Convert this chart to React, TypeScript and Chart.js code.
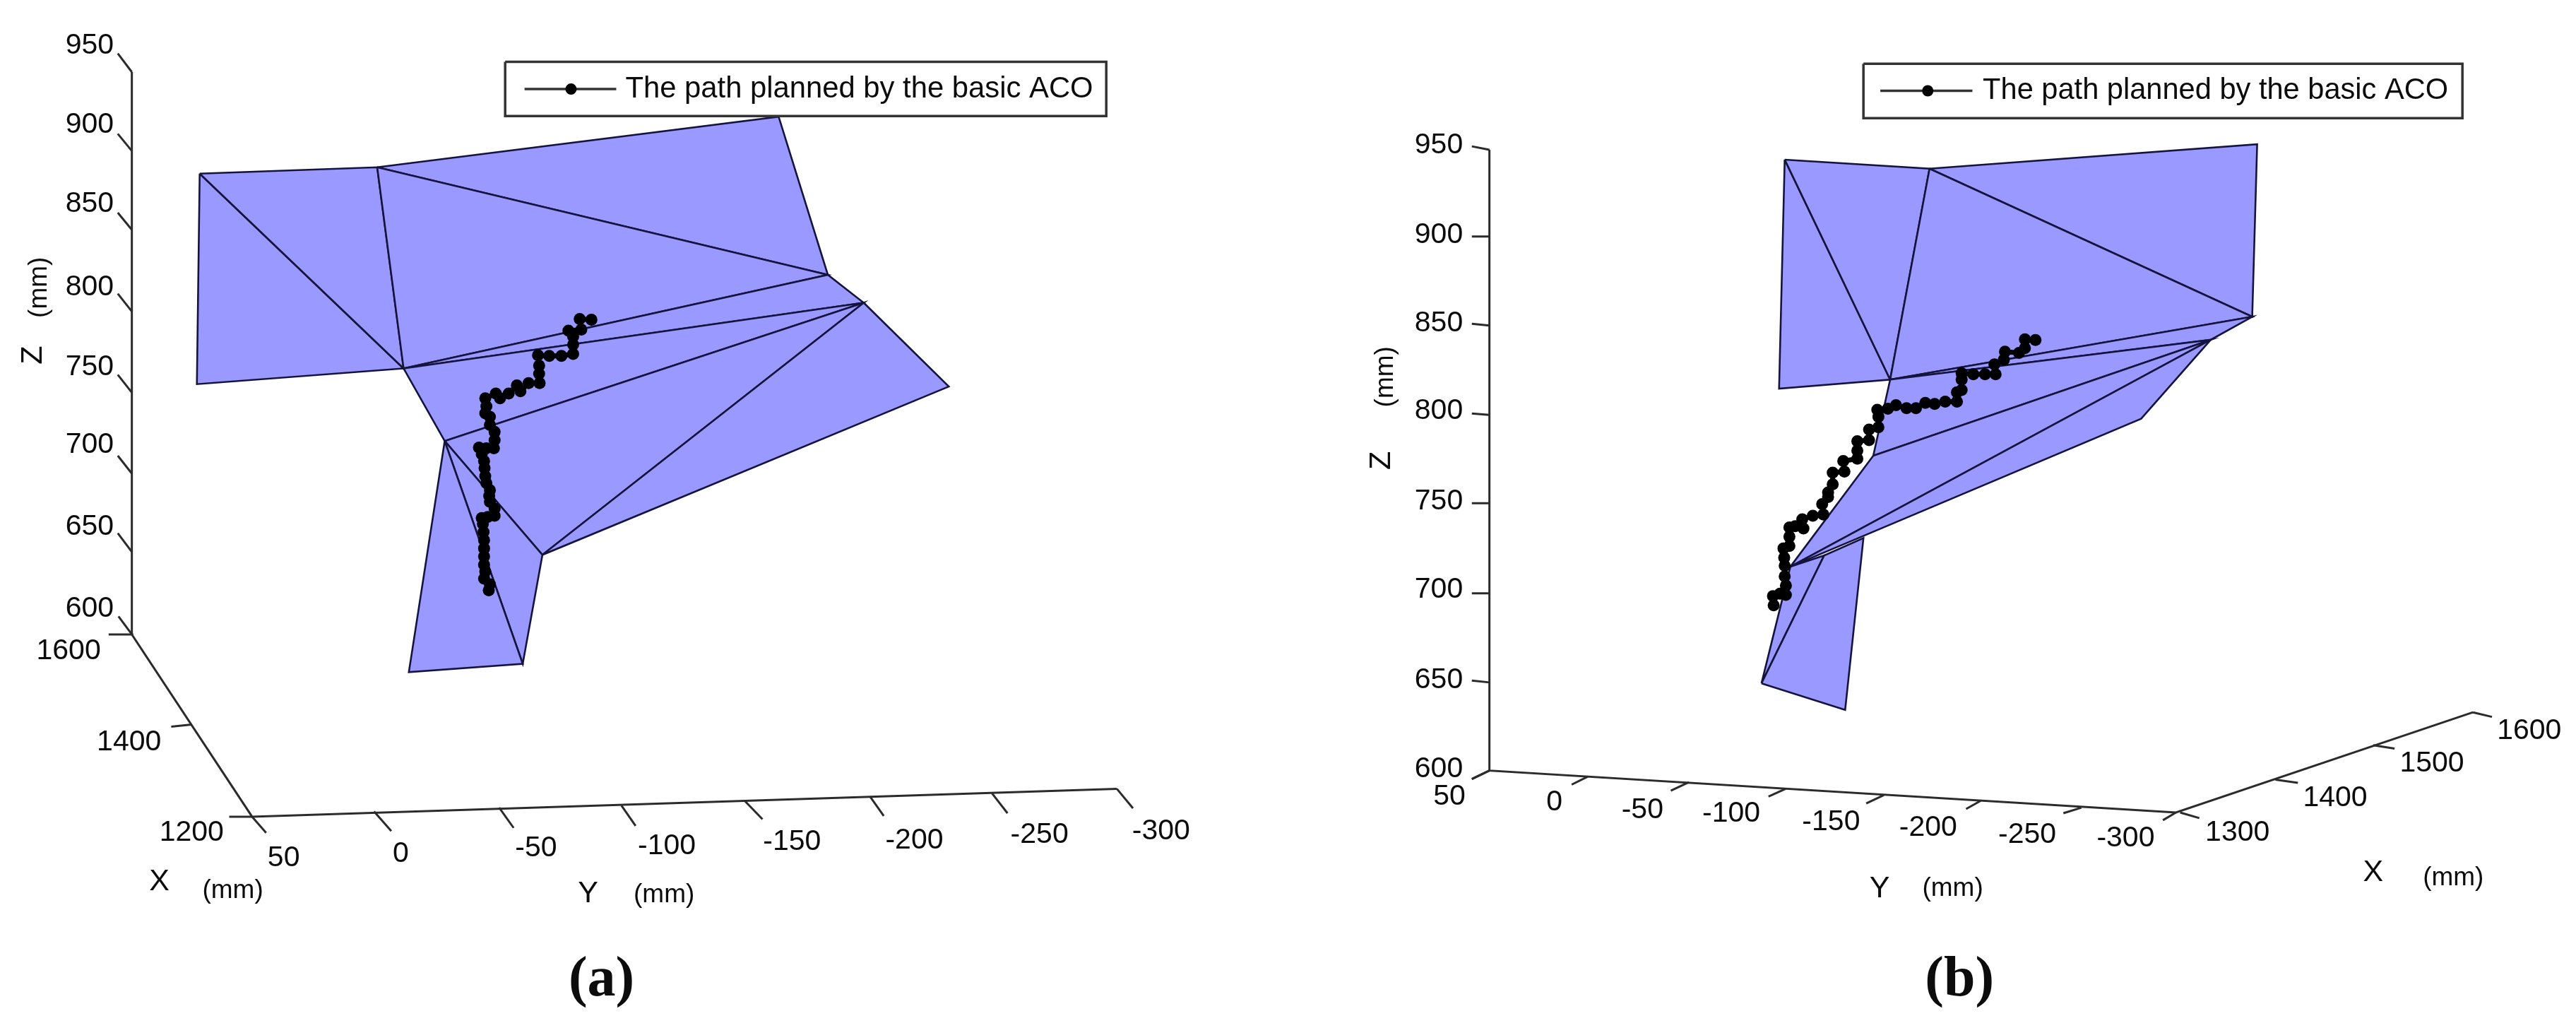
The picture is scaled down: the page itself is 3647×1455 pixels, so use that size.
import React, { useEffect, useRef } from "react";
import { Chart, registerables } from "chart.js";

Chart.register(...registerables);

type P = [number, number];

const WIDTH = 3647;
const HEIGHT = 1455;

const legendLabel = "The path planned by the basic ACO";

// ---- Panel (a): projected values ----
const aVertices: Record<string, P> = {
  A: [275.5, 240], B: [528, 231], C: [1099, 158.5], D: [1169, 385], E: [1220, 425], F: [1341, 545],
  G: [565.5, 519], H: [271.5, 541.5], I: [624, 623], J: [763, 786], K: [573, 954], L: [735, 942],
};
const aFaces = ["AGH", "ABG", "BCD", "BDG", "GDE", "GEI", "IEJ", "EFJ", "IJL", "ILK"];
const aPath: P[] = [
  [686.7, 836.7], [688.3, 828.3], [680, 820], [681.7, 810], [680, 800], [680, 788.3], [680, 776.7], [680, 765],
  [679.3, 753.3], [678.3, 741.7], [676.7, 733.3], [685, 731.7], [695, 730], [695, 720], [688.3, 710], [687.3, 701.7],
  [688.3, 693.3], [683.3, 683.3], [681.7, 673.3], [680.7, 661.7], [680, 651.7], [676.7, 641.7], [672.7, 632.3],
  [683.3, 633.3], [694, 633.3], [695, 621.7], [695, 610], [688.3, 600], [688.3, 588.3], [681.7, 583.3], [683.3, 573.3],
  [681.7, 561.7], [696.7, 555], [702.7, 561.7], [715, 555], [726.7, 543.3], [731.7, 551.7], [743.3, 540], [759, 540],
  [758.3, 526.7], [758.3, 515], [756.7, 500], [772.7, 501], [790, 501], [806.7, 498.3], [806.7, 485], [806.7, 473.3],
  [800, 465], [818.3, 463.3], [816, 448.3], [832.7, 449.3],
];
const aZLabels = ["950", "900", "850", "800", "750", "700", "650", "600"];
const aZTickBase: P[] = [[179, 94.6], [179, 207.6], [179, 320.5], [179, 437.5], [179, 553.6], [179, 669.6], [179, 781.8], [179, 900]];
const aZTickEnd: P[] = [[159, 68], [159, 183], [159, 296], [159, 412], [159, 528], [159, 644], [159, 755], [160, 874]];
const aZLabelAt: P[] = [[119, 57], [119, 170], [119, 284], [119, 403], [119, 517], [119, 629], [119, 746], [119, 863]];
const aXLabels = ["1600", "1400", "1200"];
const aXTickBase: P[] = [[181, 900], [264, 1029], [350, 1161]];
const aXTickEnd: P[] = [[146, 900], [235, 1032], [317.5, 1161]];
const aXLabelAt: P[] = [[89, 924], [175, 1055], [264, 1184]];
const aYLabels = ["50", "0", "-50", "-100", "-150", "-200", "-250", "-300"];
const aYTickBase: P[] = [[350, 1161], [523.5, 1153.5], [701.5, 1148], [875.4, 1145], [1050.5, 1138], [1229, 1132], [1402.5, 1127.5], [1580, 1121]];
const aYTickEnd: P[] = [[370, 1184], [548, 1181.5], [722, 1177], [895.5, 1174], [1076, 1164.6], [1248.5, 1160], [1424.5, 1156], [1603, 1149]];
const aYLabelAt: P[] = [[395, 1220], [561.4, 1214], [754, 1206.5], [940, 1203], [1118, 1197], [1292, 1195], [1470, 1187], [1643, 1181.5]];

// ---- Panel (b) ----
const bVertices: Record<string, P> = {
  A: [2530, 220], B: [2736, 233], C: [3202, 198], D: [3195, 445], E: [3136, 478], F: [3037, 591],
  G: [2680, 535], H: [2522, 548], N: [2656, 644], O: [2538, 803], K: [2497, 970], L: [2616, 1008],
  M: [2642, 762], Q: [2586, 787],
};
const bFaces = ["KQO", "KLMQ", "AGH", "ABG", "BCD", "BDG", "GDE", "GEN", "NEO", "EFO"];
const bPath: P[] = [
  [2514.3, 858.3], [2513.3, 845], [2523.3, 841.7], [2531.7, 843.3], [2531.7, 830], [2530, 816.7], [2530, 801.7],
  [2529.3, 790], [2528.3, 776.7], [2536.7, 773.3], [2536.7, 760], [2536.7, 746.7], [2545, 745], [2556.7, 748.3],
  [2555, 735], [2570, 730], [2585, 728.3], [2583.3, 713.3], [2591.7, 703.3], [2591.7, 696.7], [2598.3, 685],
  [2598.3, 668.3], [2615, 666.7], [2613.3, 651.7], [2633.3, 648.3], [2633.3, 636.7], [2633.3, 623.3], [2650, 621.7],
  [2650, 606.7], [2663.3, 603.3], [2663.3, 588.3], [2661.7, 578.3], [2676.7, 576.7], [2688.3, 571.7], [2703.3, 576],
  [2716.7, 576], [2730, 568.3], [2743.3, 570], [2758.3, 566.7], [2775, 566.7], [2775, 553.3], [2781.7, 550],
  [2781.7, 535], [2781.7, 526], [2798.3, 527.3], [2815, 527.3], [2830, 527.3], [2828.3, 513.3], [2841.7, 506.7],
  [2843.3, 495], [2863.3, 496.7], [2871.7, 490], [2871.7, 477.3], [2886.7, 478.3],
];
const bZLabels = ["950", "900", "850", "800", "750", "700", "650", "600"];
const bZTickBase: P[] = [[2110, 206], [2110, 330], [2110, 457.6], [2110, 585.7], [2110, 712], [2110, 841], [2110, 968.7], [2110, 1095]];
const bZTickEnd: P[] = [[2085, 201], [2085, 330], [2085, 455], [2085, 583.5], [2085, 712], [2085, 841], [2085, 966], [2085, 1107]];
const bZLabelAt: P[] = [[2038, 199.6], [2038, 328], [2038, 454], [2038, 580], [2038, 709.6], [2038, 836], [2038, 965], [2038, 1093]];
const bYLabels = ["50", "0", "-50", "-100", "-150", "-200", "-250", "-300"];
const bYTickBase: P[] = [[2110, 1095], [2250, 1103.5], [2393.7, 1111.7], [2531.5, 1121], [2671, 1130], [2809, 1138], [2952, 1148], [3086.5, 1155]];
const bYTickEnd: P[] = [[2085, 1107], [2227, 1115], [2368, 1123.7], [2507, 1132], [2646, 1142], [2788, 1150], [2926.4, 1156], [3068, 1166]];
const bYLabelAt: P[] = [[2053, 1132], [2202.5, 1140.5], [2327.7, 1151.6], [2454, 1157], [2596, 1168.5], [2734, 1176.7], [2875, 1187], [3015, 1192]];
const bXLabels = ["1300", "1400", "1500", "1600"];
const bXTickBase: P[] = [[3092.5, 1155], [3228, 1108], [3367, 1058.7], [3509, 1011.5]];
const bXTickEnd: P[] = [[3119.7, 1163], [3260, 1112.6], [3397.5, 1063.5], [3536, 1018]];
const bXLabelAt: P[] = [[3174, 1184], [3313, 1134], [3450.6, 1085], [3589, 1038.5]];

// Axis spines and legend geometry
const axisSpines: P[][] = [
  [[179, 94.6], [179, 900], [350, 1161], [1580, 1121]],
  [[2110, 206], [2110, 1095], [3086.5, 1155], [3509, 1011.5]],
];
const legendBoxes: P[][] = [
  [[710, 80], [1565, 80], [1565, 157.6], [710, 157.6], [710, 80]],
  [[2642, 82.6], [3494, 82.6], [3494, 160.7], [2642, 160.7], [2642, 82.6]],
];
const legendSamples: P[][] = [
  [[737.6, 119], [803.7, 119], [868, 119]],
  [[2666, 121.4], [2733.5, 121.4], [2797, 121.4]],
];

type Txt = { t: string; at: P; size: number; rot?: number; font?: string; weight?: string; align?: CanvasTextAlign };

const SANS = '"Liberation Sans", Arial, sans-serif';
const SERIF = '"Liberation Serif", serif';

function tickTexts(labels: string[], at: P[]): Txt[] {
  return labels.map((t, i) => ({ t, at: at[i], size: 41 }));
}

const texts: Txt[] = [
  ...tickTexts(aZLabels, aZLabelAt),
  ...tickTexts(aXLabels, aXLabelAt),
  ...tickTexts(aYLabels, aYLabelAt),
  ...tickTexts(bZLabels, bZLabelAt),
  ...tickTexts(bYLabels, bYLabelAt),
  ...tickTexts(bXLabels, bXLabelAt),
  { t: "X", at: [218, 1254], size: 43 },
  { t: "(mm)", at: [322.6, 1267], size: 37 },
  { t: "Y", at: [828, 1272], size: 43 },
  { t: "(mm)", at: [936, 1273], size: 37 },
  { t: "Z", at: [39, 500], size: 43, rot: -90 },
  { t: "(mm)", at: [47.6, 403], size: 37, rot: -90 },
  { t: "X", at: [3367, 1241.6], size: 43 },
  { t: "(mm)", at: [3481, 1249], size: 37 },
  { t: "Y", at: [2665, 1264], size: 43 },
  { t: "(mm)", at: [2769, 1264], size: 37 },
  { t: "Z", at: [1957, 651], size: 43, rot: -90 },
  { t: "(mm)", at: [1962, 531], size: 37, rot: -90 },
  { t: legendLabel, at: [881, 119], size: 41.8, align: "left" },
  { t: legendLabel, at: [2811.7, 121.4], size: 41.6, align: "left" },
  { t: "(a)", at: [847, 1396], size: 80, font: SERIF, weight: "bold" },
  { t: "(b)", at: [2778.6, 1396], size: 80, font: SERIF, weight: "bold" },
];

const toXY = (pts: P[]) => pts.map(([x, y]) => ({ x, y }));

const EDGE = "#14143c";
const AXIS = "#2b2b2b";

function faceDatasets(vertices: Record<string, P>, faces: string[]) {
  return faces.map((f) => {
    const pts = f.split("").map((k) => vertices[k]);
    return {
      type: "line" as const,
      data: toXY([...pts, pts[0]]),
      fill: "shape",
      backgroundColor: "#9999ff",
      borderColor: EDGE,
      borderWidth: 2.6,
      pointRadius: 0,
      tension: 0,
    };
  });
}

function lineDataset(pts: P[], width = 3, color = AXIS) {
  return {
    type: "line" as const,
    data: toXY(pts),
    fill: false,
    borderColor: color,
    borderWidth: width,
    pointRadius: 0,
    tension: 0,
  };
}

function tickDatasets(base: P[], end: P[]) {
  return base.map((b, i) => lineDataset([b, end[i]], 3));
}

function pathDataset(pts: P[]) {
  return {
    type: "line" as const,
    label: legendLabel,
    data: toXY(pts),
    fill: false,
    borderColor: "#000",
    borderWidth: 7,
    pointRadius: 8.5,
    pointBackgroundColor: "#000",
    pointBorderColor: "#000",
    pointBorderWidth: 0,
    tension: 0,
  };
}

const textPlugin = {
  id: "pictureText",
  afterDatasetsDraw(chart: any) {
    const { ctx, scales } = chart;
    ctx.save();
    ctx.fillStyle = "#0c0c0c";
    for (const item of texts) {
      const px = scales.x.getPixelForValue(item.at[0]);
      const py = scales.y.getPixelForValue(item.at[1]);
      ctx.save();
      ctx.translate(px, py);
      if (item.rot) ctx.rotate((item.rot * Math.PI) / 180);
      ctx.font = `${item.weight ?? "normal"} ${item.size}px ${item.font ?? SANS}`;
      ctx.textAlign = item.align ?? "center";
      ctx.textBaseline = "middle";
      ctx.fillText(item.t, 0, 0);
      ctx.restore();
    }
    ctx.restore();
  },
};

export default function App() {
  const ref = useRef<HTMLCanvasElement | null>(null);
  useEffect(() => {
    document.body.style.margin = "0";
    document.body.style.background = "#fff";
    // Layers listed bottom to top; Chart.js paints the first dataset last, so reverse them.
    const layers = [
      ...faceDatasets(aVertices, aFaces),
      ...faceDatasets(bVertices, bFaces),
      ...axisSpines.map((s) => lineDataset(s)),
      ...tickDatasets(aZTickBase, aZTickEnd),
      ...tickDatasets(aXTickBase, aXTickEnd),
      ...tickDatasets(aYTickBase, aYTickEnd),
      ...tickDatasets(bZTickBase, bZTickEnd),
      ...tickDatasets(bYTickBase, bYTickEnd),
      ...tickDatasets(bXTickBase, bXTickEnd),
      pathDataset(aPath),
      pathDataset(bPath),
      ...legendBoxes.map((b) => ({
        ...lineDataset(b, 3.5, "#333"),
        fill: "shape",
        backgroundColor: "#fff",
      })),
      ...legendSamples.map((s) => ({
        ...lineDataset(s, 3.5, "#333"),
        pointRadius: [0, 8, 0],
        pointBackgroundColor: "#000",
        pointBorderWidth: 0,
      })),
    ];
    const chart = new Chart(ref.current as HTMLCanvasElement, {
      type: "scatter",
      data: { datasets: layers.reverse() as any },
      options: {
        animation: false,
        responsive: false,
        maintainAspectRatio: false,
        events: [],
        layout: { padding: 0 },
        scales: {
          x: { type: "linear", min: 0, max: WIDTH, display: false },
          y: { type: "linear", min: 0, max: HEIGHT, reverse: true, display: false },
        },
        plugins: { legend: { display: false }, tooltip: { enabled: false }, title: { display: false } },
      } as any,
      plugins: [textPlugin],
    });
    return () => chart.destroy();
  }, []);
  return (
    <div style={{ position: "absolute", left: 0, top: 0, width: WIDTH, height: HEIGHT, overflow: "hidden", background: "#fff" }}>
      <canvas ref={ref} width={WIDTH} height={HEIGHT} style={{ display: "block" }} />
    </div>
  );
}
